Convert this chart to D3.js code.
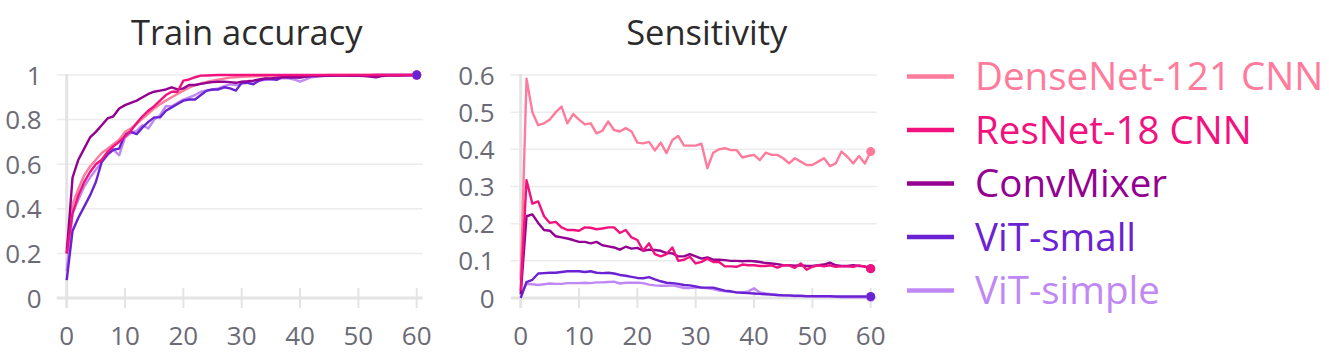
<!DOCTYPE html>
<html>
<head>
<meta charset="utf-8">
<script src="https://cdn.jsdelivr.net/npm/d3@7"></script>
<style>
  body { margin: 0; background: #fff; }
  svg { display: block; font-family: "Open Sans", Lato, sans-serif; }
</style>
</head>
<body>
<svg id="chart" width="1329" height="354"></svg>
<script>
// epochs 0..60
var epochs = d3.range(0, 61);

var seriesNames = ["DenseNet-121 CNN", "ResNet-18 CNN", "ConvMixer", "ViT-small", "ViT-simple"];
var seriesColors = ["#ff7b9c", "#f2127f", "#940091", "#6a22d2", "#c088f4"];

var xTicks = [0, 10, 20, 30, 40, 50, 60];

// train accuracy
var denseTrain = [0.22, 0.42, 0.49, 0.55, 0.59, 0.62, 0.65, 0.67, 0.69, 0.71, 0.745, 0.76, 0.78, 0.805, 0.827, 0.85, 0.869, 0.885, 0.9, 0.915, 0.93, 0.943, 0.954, 0.962, 0.969, 0.974, 0.979, 0.984, 0.988, 0.99, 0.992,
  0.993, 0.994, 0.995, 0.996, 0.997, 0.997, 0.998, 0.998, 0.998, 0.999, 0.999, 0.999, 0.999, 0.999, 1, 1, 1, 1, 1, 1, 1, 1, 1, 1, 1, 1, 1, 1, 1, 1];
var resTrain = [0.2, 0.38, 0.46, 0.52, 0.565, 0.6, 0.62, 0.655, 0.68, 0.7, 0.725, 0.75, 0.785, 0.815, 0.84, 0.86, 0.885, 0.91, 0.925, 0.925, 0.975, 0.98, 0.99, 0.997, 0.998, 0.999, 1, 1, 1, 1, 1,
  1, 1, 1, 1, 1, 1, 1, 1, 1, 1, 1, 1, 1, 1, 1, 1, 1, 1, 1, 1, 1, 1, 1, 1, 1, 1, 1, 1, 1, 1];
var convTrain = [0.2, 0.54, 0.62, 0.67, 0.72, 0.745, 0.775, 0.805, 0.815, 0.85, 0.865, 0.875, 0.885, 0.9, 0.915, 0.925, 0.93, 0.935, 0.945, 0.935, 0.94, 0.955, 0.955, 0.96, 0.965, 0.968, 0.97, 0.97, 0.968, 0.965, 0.97,
  0.972, 0.975, 0.98, 0.985, 0.985, 0.988, 0.99, 0.99, 0.99, 0.99, 0.993, 0.995, 0.995, 0.996, 0.996, 0.997, 0.997, 0.997, 0.996, 0.996, 0.995, 0.993, 0.99, 0.995, 0.997, 0.998, 0.998, 0.999, 0.999, 1];
var vitSmallTrain = [0.08, 0.3, 0.36, 0.41, 0.46, 0.52, 0.61, 0.645, 0.665, 0.67, 0.735, 0.745, 0.735, 0.765, 0.79, 0.81, 0.81, 0.84, 0.855, 0.87, 0.885, 0.89, 0.89, 0.91, 0.93, 0.935, 0.935, 0.945, 0.94, 0.93, 0.965,
  0.965, 0.958, 0.975, 0.982, 0.982, 0.978, 0.992, 0.99, 0.99, 0.988, 0.993, 0.995, 0.996, 0.997, 0.997, 0.998, 0.998, 0.998, 0.999, 0.999, 0.999, 0.999, 1, 1, 1, 1, 1, 1, 1, 1];
var vitSimpleTrain = [0.12, 0.38, 0.44, 0.5, 0.54, 0.575, 0.61, 0.64, 0.665, 0.64, 0.72, 0.74, 0.75, 0.775, 0.76, 0.8, 0.82, 0.86, 0.86, 0.875, 0.89, 0.9, 0.91, 0.925, 0.93, 0.935, 0.94, 0.95, 0.958, 0.955, 0.96,
  0.965, 0.97, 0.975, 0.978, 0.98, 0.983, 0.985, 0.985, 0.98, 0.97, 0.98, 0.99, 0.993, 0.995, 0.996, 0.997, 0.997, 0.998, 0.998, 0.999, 0.999, 0.999, 1, 1, 1, 1, 1, 1, 1, 1];

// sensitivity
var denseSens = [0.05, 0.59, 0.5, 0.465, 0.47, 0.48, 0.5, 0.515, 0.47, 0.495, 0.48, 0.467, 0.47, 0.443, 0.45, 0.475, 0.452, 0.448, 0.457, 0.448, 0.418,
  0.416, 0.42, 0.397, 0.418, 0.39, 0.425, 0.436, 0.41, 0.41, 0.41, 0.415, 0.349, 0.391, 0.4, 0.403, 0.398, 0.398, 0.378, 0.382, 0.385,
  0.371, 0.391, 0.385, 0.385, 0.376, 0.362, 0.376, 0.367, 0.358, 0.358, 0.367, 0.376, 0.355, 0.362, 0.394, 0.38, 0.362, 0.382, 0.362, 0.394];
var resSens = [0.02, 0.317, 0.254, 0.26, 0.22, 0.202, 0.205, 0.19, 0.183, 0.183, 0.181, 0.19, 0.189, 0.185, 0.187, 0.19, 0.19, 0.175, 0.183, 0.163, 0.156,
  0.127, 0.147, 0.118, 0.112, 0.118, 0.136, 0.1, 0.103, 0.111, 0.093, 0.097, 0.106, 0.097, 0.097, 0.085, 0.085, 0.084, 0.09, 0.088, 0.088,
  0.086, 0.086, 0.088, 0.082, 0.088, 0.088, 0.081, 0.093, 0.076, 0.084, 0.088, 0.085, 0.088, 0.084, 0.085, 0.085, 0.084, 0.088, 0.084, 0.079];
var convSens = [0.01, 0.22, 0.225, 0.202, 0.183, 0.181, 0.166, 0.163, 0.16, 0.156, 0.151, 0.151, 0.147, 0.151, 0.142, 0.139, 0.136, 0.13, 0.138, 0.133, 0.135,
  0.127, 0.13, 0.129, 0.127, 0.121, 0.12, 0.112, 0.112, 0.118, 0.112, 0.106, 0.109, 0.103, 0.103, 0.102, 0.1, 0.1, 0.099, 0.1, 0.099,
  0.097, 0.094, 0.093, 0.091, 0.088, 0.088, 0.087, 0.088, 0.086, 0.086, 0.088, 0.09, 0.095, 0.088, 0.086, 0.086, 0.088, 0.086, 0.085, 0.079];
var vitSmallSens = [0.0, 0.043, 0.049, 0.066, 0.067, 0.068, 0.068, 0.07, 0.072, 0.072, 0.072, 0.07, 0.072, 0.068, 0.067, 0.068, 0.066, 0.062, 0.06, 0.057, 0.054,
  0.053, 0.056, 0.05, 0.045, 0.041, 0.04, 0.038, 0.035, 0.034, 0.031, 0.028, 0.028, 0.028, 0.024, 0.02, 0.018, 0.015, 0.014, 0.013, 0.012,
  0.011, 0.01, 0.009, 0.008, 0.007, 0.007, 0.006, 0.006, 0.005, 0.005, 0.005, 0.005, 0.005, 0.004, 0.004, 0.004, 0.004, 0.004, 0.004, 0.004];
var vitSimpleSens = [0.01, 0.038, 0.037, 0.035, 0.037, 0.039, 0.038, 0.038, 0.04, 0.04, 0.04, 0.041, 0.04, 0.042, 0.042, 0.043, 0.044, 0.039, 0.041, 0.041, 0.041,
  0.04, 0.036, 0.034, 0.033, 0.033, 0.034, 0.031, 0.027, 0.027, 0.028, 0.028, 0.026, 0.024, 0.02, 0.018, 0.017, 0.015, 0.015, 0.018, 0.026,
  0.015, 0.012, 0.01, 0.008, 0.007, 0.006, 0.005, 0.005, 0.004, 0.004, 0.003, 0.003, 0.003, 0.003, 0.002, 0.002, 0.002, 0.002, 0.002, 0.002];

var trainSeries = [denseTrain, resTrain, convTrain, vitSmallTrain, vitSimpleTrain];
var sensSeries = [denseSens, resSens, convSens, vitSmallSens, vitSimpleSens];

var trainTicks = [0, 0.2, 0.4, 0.6, 0.8, 1];
var sensTicks = [0, 0.1, 0.2, 0.3, 0.4, 0.5, 0.6];

// drawing order (last on top)
var drawOrder = [4, 3, 0, 2, 1];
var dotOrder = [0, 2, 1, 4, 3];

var svg = d3.select("#chart");

var gridColor = "#ececec";
var axisColor = "#e4e4e4";
var labelColor = "#6b6b76";

function drawPanel(opts) {
  var x = d3.scaleLinear().domain([0, 60]).range([opts.left, opts.left + 350]);
  var y = d3.scaleLinear().domain([0, opts.yMax]).range([298, 75]);
  var g = svg.append("g");

  // title
  g.append("text")
    .attr("x", opts.left + opts.titleShift)
    .attr("y", 45)
    .attr("text-anchor", "middle")
    .attr("font-size", 34.5)
    .attr("fill", "#2b2b2b")
    .text(opts.title);

  // horizontal grid
  g.selectAll(".grid")
    .data(opts.yTicks.slice(1))
    .enter().append("line")
    .attr("x1", x(0) - 10)
    .attr("x2", x(60) + 6)
    .attr("y1", function (d) { return y(d); })
    .attr("y2", function (d) { return y(d); })
    .style("stroke", gridColor)
    .style("stroke-width", 1.5);

  // x axis line + ticks
  g.append("line")
    .attr("x1", x(0) - 10).attr("x2", x(60) + 6)
    .attr("y1", y(0)).attr("y2", y(0))
    .style("stroke", axisColor).style("stroke-width", 3);

  g.selectAll(".xtick")
    .data(xTicks.slice(1))
    .enter().append("line")
    .attr("x1", function (d) { return x(d); })
    .attr("x2", function (d) { return x(d); })
    .attr("y1", y(0) - 10).attr("y2", y(0) + 10)
    .style("stroke", axisColor).style("stroke-width", 2);

  // y axis line
  g.append("line")
    .attr("x1", x(0)).attr("x2", x(0))
    .attr("y1", y(opts.yMax) - 1).attr("y2", y(0) + 10)
    .style("stroke", axisColor).style("stroke-width", 3);

  // tick labels
  g.selectAll(".xlab")
    .data(xTicks)
    .enter().append("text")
    .attr("x", function (d) { return x(d); })
    .attr("y", 345)
    .attr("text-anchor", "middle")
    .attr("font-size", 26)
    .attr("fill", labelColor)
    .text(function (d) { return d; });

  g.selectAll(".ylab")
    .data(opts.yTicks)
    .enter().append("text")
    .attr("x", x(0) - opts.labelGap)
    .attr("y", function (d) { return y(d) + 9.5; })
    .attr("text-anchor", "end")
    .attr("font-size", 26)
    .attr("fill", labelColor)
    .text(function (d) { return d; });

  var line = d3.line()
    .x(function (d, i) { return x(epochs[i]); })
    .y(function (d) { return y(d); });

  drawOrder.forEach(function (k) {
    g.append("path")
      .datum(opts.series[k])
      .attr("d", line)
      .attr("fill", "none")
      .attr("stroke", seriesColors[k])
      .attr("stroke-width", 2.4)
      .attr("stroke-linejoin", "round");
  });

  dotOrder.forEach(function (k) {
    var s = opts.series[k];
    g.append("circle")
      .attr("cx", x(epochs[s.length - 1]))
      .attr("cy", y(s[s.length - 1]))
      .attr("r", 4.5)
      .attr("fill", seriesColors[k]);
  });
}

drawPanel({ left: 66.7, yMax: 1, yTicks: trainTicks, series: trainSeries, title: "Train accuracy", titleShift: 180, labelGap: 25 });
drawPanel({ left: 520.7, yMax: 0.6, yTicks: sensTicks, series: sensSeries, title: "Sensitivity", titleShift: 186, labelGap: 26 });

// legend
var legend = svg.append("g").attr("transform", "translate(907,0)");
seriesNames.forEach(function (name, i) {
  var base = 90 + i * 53.5;
  legend.append("line")
    .attr("x1", 0).attr("x2", 47)
    .attr("y1", base - 13.5).attr("y2", base - 13.5)
    .style("stroke", seriesColors[i]).style("stroke-width", 4.5);
  legend.append("text")
    .attr("x", 68)
    .attr("y", base)
    .attr("font-size", 38.5)
    .attr("fill", seriesColors[i])
    .text(name);
});
</script>
</body>
</html>
